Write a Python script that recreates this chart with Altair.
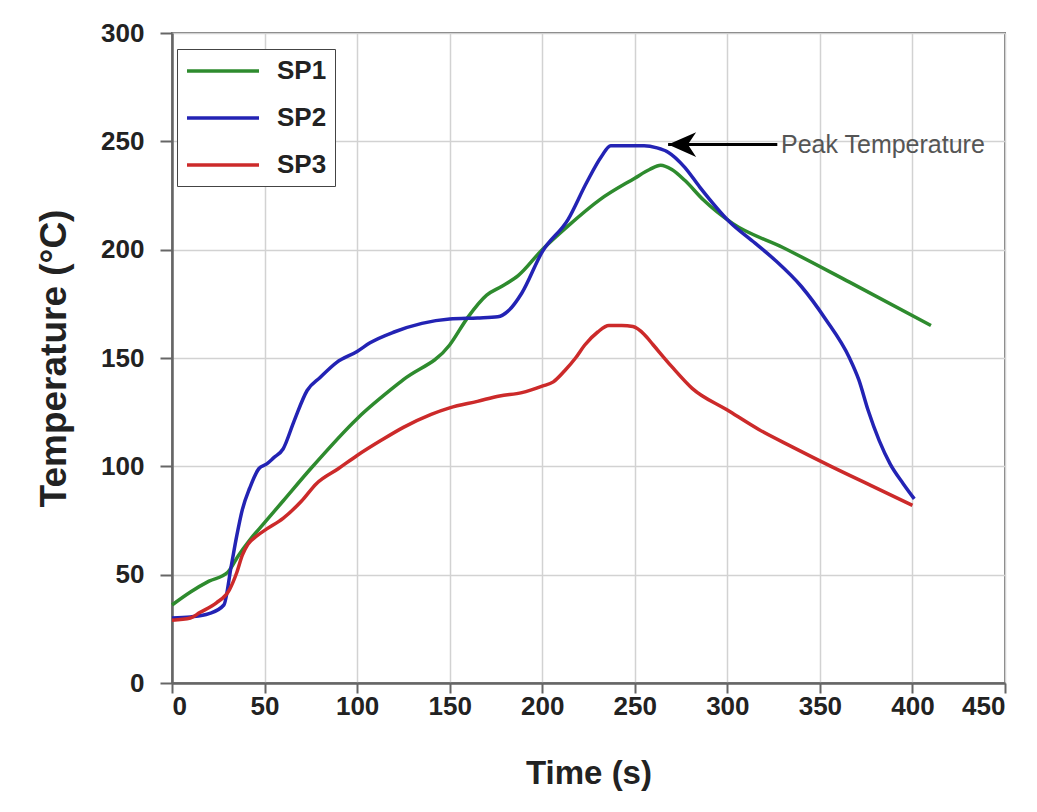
import altair as alt
import pandas as pd

# ---------------- data ----------------
SERIES = ["SP1", "SP2", "SP3"]
COLORS = ["#2e8b2e", "#2323b4", "#cc2a2a"]

SP1_TIME = [0, 10, 20, 30, 36, 42, 50, 60, 75, 100, 125, 150, 160, 170, 178, 187,
            200, 214, 231, 250, 258, 264, 270, 277, 287, 303, 330, 366, 410]
SP1_TEMP = [36, 42, 47, 51, 59, 66, 74, 84, 99, 122, 140, 156, 169, 179, 183, 188,
            200, 211, 223, 233, 237, 239, 237, 232, 223, 212, 201, 185, 165]

SP2_TIME = [0, 10, 20, 28, 32, 35, 38, 42, 47, 51, 55, 60, 66, 73, 80, 89, 100, 107,
            120, 135, 150, 165, 176, 182, 189, 200, 214, 224, 232, 237, 245, 255,
            262, 268, 277, 285, 301, 315, 326, 340, 353, 366, 371, 376, 388, 395, 401]
SP2_TEMP = [30, 30.5, 32, 36, 54, 68, 80, 90, 99, 101, 104, 108, 121, 135, 141, 148,
            153, 157, 162, 166, 168, 168.5, 169, 172, 180, 199, 214, 231, 243, 248,
            248, 248, 247, 245, 238, 229, 213, 203, 195, 183, 168, 150, 140, 126, 101,
            92, 85]

SP3_TIME = [0, 10, 15, 24, 31, 35, 38, 41, 46, 51, 60, 70, 78, 90, 100, 113, 125, 140,
            150, 165, 177, 189, 200, 206, 212, 218, 223, 230, 236, 243, 249, 255, 260,
            270, 281, 300, 317, 335, 356, 378, 400]
SP3_TEMP = [29, 30, 32.5, 37, 43, 51, 59, 64, 68, 71, 76, 84, 92, 99, 105, 112, 118,
            124, 127, 130, 132.5, 134, 137, 139, 144, 150, 156, 162, 165, 165, 164.5,
            161, 156, 146, 136, 126, 117, 109, 100, 91, 82]

X_TICKS = [0, 50, 100, 150, 200, 250, 300, 350, 400, 450]
Y_TICKS = [0, 50, 100, 150, 200, 250, 300]

ANNOT_TEXT = "Peak Temperature"
ARROW_TIP_T = 268
ARROW_TAIL_T = 327
ARROW_TEMP = 248.5
TEXT_T = 329

FONT = "Liberation Sans"

# ---------------- tables ----------------
rows = []
for name, ts, vs in [("SP1", SP1_TIME, SP1_TEMP),
                     ("SP2", SP2_TIME, SP2_TEMP),
                     ("SP3", SP3_TIME, SP3_TEMP)]:
    for i, (t, v) in enumerate(zip(ts, vs)):
        rows.append({"series": name, "time": t, "temp": v, "idx": i})
df = pd.DataFrame(rows)

arrow_df = pd.DataFrame({"t": [ARROW_TIP_T], "t2": [ARROW_TAIL_T], "T": [ARROW_TEMP],
                         "tt": [TEXT_T], "label": [ANNOT_TEXT]})

x_scale = alt.Scale(domain=[0, 450], nice=False)
y_scale = alt.Scale(domain=[0, 300], nice=False)

x_axis = alt.Axis(values=X_TICKS, title="Time (s)", grid=True,
                  labelFont=FONT, labelFontSize=26, labelFontWeight="bold",
                  labelColor="#222", tickColor="#666", tickSize=10, tickWidth=2,
                  labelPadding=0, domainColor="#666", domainWidth=2.5,
                  gridColor="#d2d2d2", gridWidth=1.5,
                  titleFont=FONT, titleFontSize=33, titleFontWeight="bold",
                  titleColor="#222", titlePadding=38)
y_axis = alt.Axis(values=Y_TICKS, title="Temperature (°C)", grid=True,
                  labelFont=FONT, labelFontSize=26, labelFontWeight="bold",
                  labelColor="#222", tickColor="#666", tickSize=12, tickWidth=2,
                  labelPadding=16, domainColor="#666", domainWidth=2.5,
                  gridColor="#d2d2d2", gridWidth=1.5,
                  titleFont=FONT, titleFontSize=37, titleFontWeight="bold",
                  titleColor="#222", titlePadding=27)

legend = alt.Legend(orient="none", legendX=5, legendY=16, title=None,
                    symbolType="M-1,0H5", symbolSize=576,
                    symbolStrokeWidth=3.5, labelFont=FONT,
                    labelFontSize=26, labelFontWeight="bold",
                    labelColor="#222", labelOffset=64, rowPadding=20,
                    labelExpr="datum.label + ' '",
                    strokeColor="#444", fillColor="white", padding=8)

lines = alt.Chart(df).mark_line(interpolate="monotone", strokeWidth=3.5).encode(
    x=alt.X("time:Q", scale=x_scale, axis=x_axis),
    y=alt.Y("temp:Q", scale=y_scale, axis=y_axis),
    color=alt.Color("series:N", scale=alt.Scale(domain=SERIES, range=COLORS),
                    legend=legend),
    order="idx:Q",
)

arrow = alt.Chart(arrow_df).mark_rule(color="black", strokeWidth=3).encode(
    x=alt.X("t:Q", scale=x_scale), x2="t2:Q", y=alt.Y("T:Q", scale=y_scale))

head = alt.Chart(arrow_df).mark_point(
    shape="M0,0L1.7,-0.75L1.2,0L1.7,0.75Z", filled=True, size=1089,
    color="black", opacity=1).encode(
    x=alt.X("t:Q", scale=x_scale), y=alt.Y("T:Q", scale=y_scale))

label = alt.Chart(arrow_df).mark_text(align="left", baseline="middle", font=FONT,
                                      fontSize=25, color="#555").encode(
    x=alt.X("tt:Q", scale=x_scale), y=alt.Y("T:Q", scale=y_scale), text="label:N")

chart = alt.layer(lines, arrow, head, label).properties(
    width=833, height=650,
    padding={"left": 164, "top": 25, "right": 24, "bottom": 121},
    autosize=alt.AutoSizeParams(type="none"),
).configure_view(stroke="#777", strokeWidth=2)

chart.save("out.html", embed_options={"renderer": "svg", "actions": False})
